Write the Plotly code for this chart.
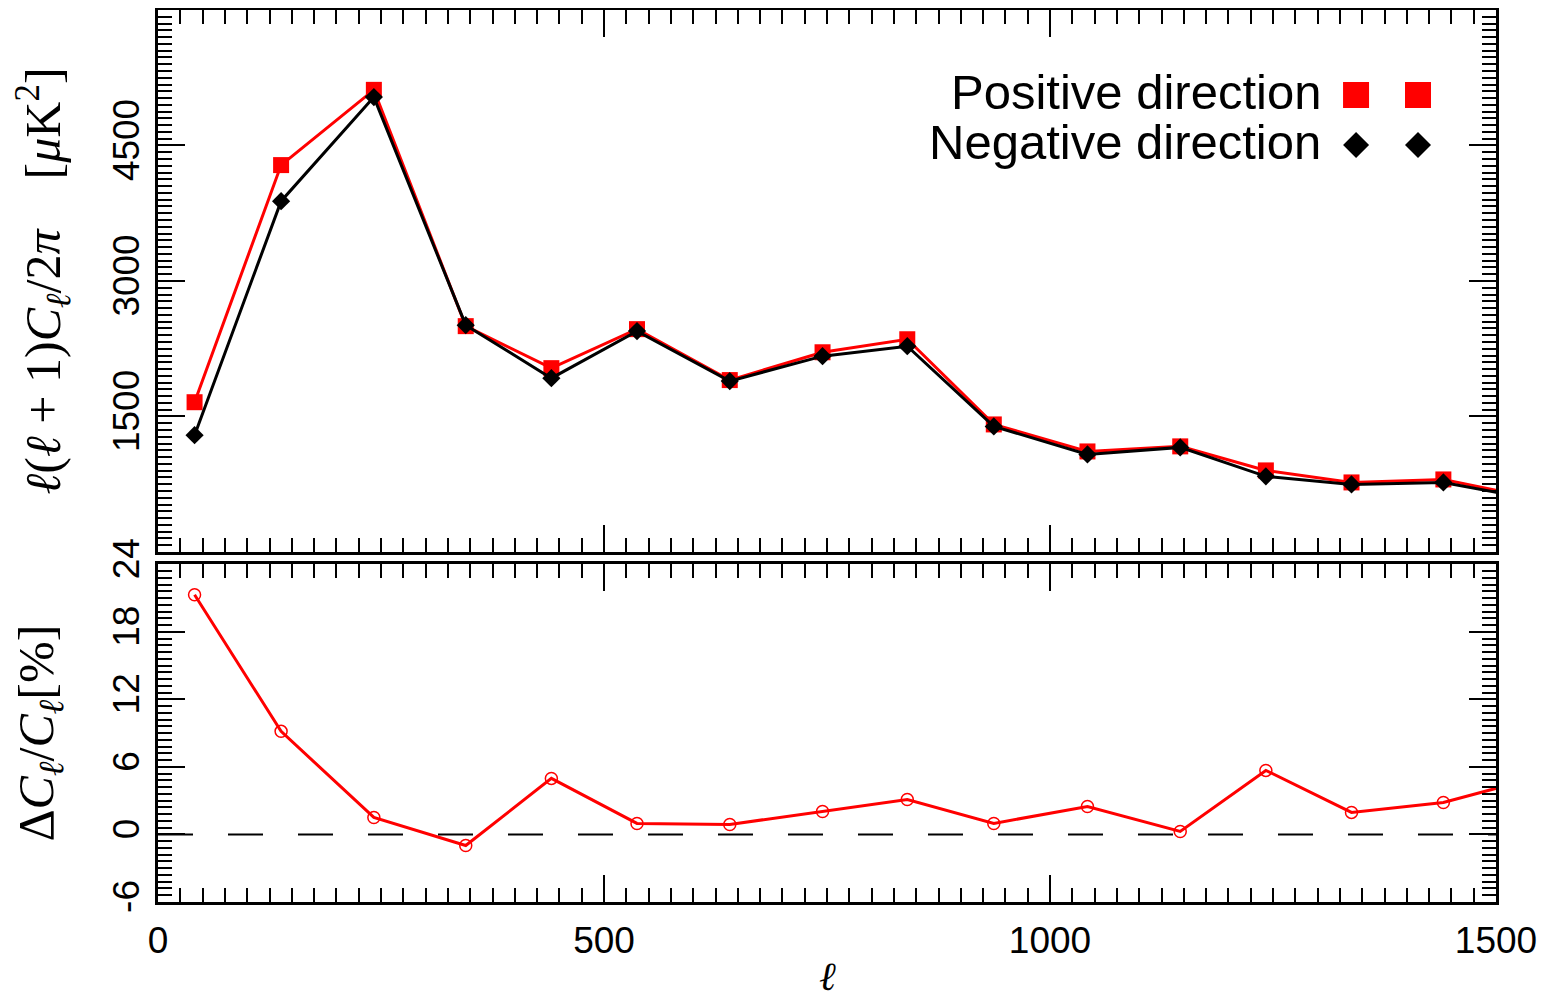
import plotly.graph_objects as go

# ---- data ----
ell = [41, 138, 242, 345, 441, 537, 641, 745, 840, 937, 1042, 1146, 1242, 1338, 1441, 1540]
positive_dl = [1658, 4283, 5116, 2500, 2035, 2467, 1903, 2211, 2355, 1412, 1113, 1169, 903, 770, 803, 603]
negative_dl = [1293, 3884, 5036, 2511, 1924, 2445, 1892, 2168, 2278, 1390, 1080, 1158, 837, 748, 770, 589]
delta_pct = [21.3, 9.16, 1.51, -0.98, 4.98, 0.98, 0.89, 2.04, 3.11, 0.98, 2.49, 0.27, 5.69, 1.96, 2.84, 4.94]

x_ticks = [0, 500, 1000, 1500]
top_y_ticks = [1500, 3000, 4500]
bot_y_ticks = [-6, 0, 6, 12, 18, 24]
bot_y_text = ["-6", "0", "6", "12", "18", "24"]

legend_labels = ["Positive direction", "Negative direction"]

RED = "#ff0000"
BLACK = "#000000"
TICKFONT = dict(family="Liberation Sans, Arial, sans-serif", size=37, color=BLACK)
TITLEFONT = dict(family="Liberation Serif, DejaVu Serif, serif", size=50, color=BLACK)
XTITLEFONT = dict(family="Liberation Serif, DejaVu Serif, serif", size=40, color=BLACK)
LEGFONT = dict(family="Liberation Sans, Arial, sans-serif", size=49, color=BLACK)

fig = go.Figure()

fig.add_trace(go.Scatter(x=ell, y=positive_dl, mode="lines+markers", xaxis="x2", yaxis="y2",
                         line=dict(color=RED, width=3),
                         marker=dict(symbol="square", size=16, color=RED), showlegend=False))
fig.add_trace(go.Scatter(x=ell, y=negative_dl, mode="lines+markers", xaxis="x2", yaxis="y2",
                         line=dict(color=BLACK, width=3),
                         marker=dict(symbol="diamond", size=14, color=BLACK), showlegend=False))
fig.add_trace(go.Scatter(x=ell, y=delta_pct, mode="lines+markers", xaxis="x", yaxis="y",
                         line=dict(color=RED, width=3),
                         marker=dict(symbol="circle-open", size=12, color=RED, line=dict(width=1.5)),
                         showlegend=False))

common = dict(showline=True, linewidth=3, linecolor=BLACK, mirror="allticks",
              ticks="inside", ticklen=27, tickwidth=2, tickcolor=BLACK,
              showgrid=False, zeroline=False, tickfont=TICKFONT, automargin=False)

# legend symbols: pixel-sized shapes anchored in paper coordinates
legend_shapes = []
for xa in (0.8954, 0.9417):
    legend_shapes.append(dict(type="rect", xref="paper", yref="paper", xsizemode="pixel", ysizemode="pixel",
                              xanchor=xa, yanchor=0.9047, x0=-13, x1=13, y0=-13, y1=13,
                              fillcolor=RED, line=dict(width=0)))
    legend_shapes.append(dict(type="path", xref="paper", yref="paper", xsizemode="pixel", ysizemode="pixel",
                              xanchor=xa, yanchor=0.8487, path="M -13 0 L 0 13 L 13 0 L 0 -13 Z",
                              fillcolor=BLACK, line=dict(width=0)))

fig.update_layout(
    width=1540, height=987, autosize=False,
    margin=dict(l=150, r=52, t=2, b=93, autoexpand=False),
    plot_bgcolor="white", paper_bgcolor="white",
    xaxis=dict(domain=[0, 1], anchor="y", range=[0, 1500], tickvals=x_ticks,
               minor=dict(ticks="inside", ticklen=14, tickwidth=2, tickcolor=BLACK, dtick=25, tick0=0),
               ticklabelstandoff=4, **common),
    yaxis=dict(domain=[0, 0.3786], anchor="x", range=[-6, 24], tickvals=bot_y_ticks, ticktext=bot_y_text,
               tickangle=-90, ticklabelstandoff=1,
               minor=dict(ticks="inside", ticklen=14, tickwidth=2, tickcolor=BLACK, dtick=0.6, tick0=0),
               title=dict(text="Δ<i>C</i><sub><i>ℓ</i></sub>/<i>C</i><sub><i>ℓ</i></sub>[%]",
                          font=TITLEFONT, standoff=38), **common),
    xaxis2=dict(domain=[0, 1], anchor="y2", range=[0, 1500], tickvals=x_ticks, showticklabels=False,
                matches="x",
                minor=dict(ticks="inside", ticklen=14, tickwidth=2, tickcolor=BLACK, dtick=25, tick0=0),
                **common),
    yaxis2=dict(domain=[0.3924, 1], anchor="x2", range=[0, 6000], tickvals=top_y_ticks,
                tickangle=-90, ticklabelstandoff=1,
                minor=dict(ticks="inside", ticklen=14, tickwidth=2, tickcolor=BLACK, dtick=75, tick0=0),
                title=dict(text="<i>ℓ</i>(<i>ℓ</i> + 1)<i>C</i><sub><i>ℓ</i></sub>/2<i>π</i>"
                                "\u00a0\u00a0\u00a0\u00a0[<i>μ</i>K<sup>2</sup>]",
                           font=TITLEFONT, standoff=38), **common),
    shapes=[dict(type="line", xref="x domain", x0=0, x1=1, yref="y", y0=0, y1=0,
                 line=dict(color=BLACK, width=2, dash="35px,35px"))] + legend_shapes,
    annotations=[
        dict(text=legend_labels[0], xref="paper", yref="paper", x=0.8707, y=0.908,
             xanchor="right", yanchor="middle", showarrow=False, font=LEGFONT),
        dict(text=legend_labels[1], xref="paper", yref="paper", x=0.8707, y=0.852,
             xanchor="right", yanchor="middle", showarrow=False, font=LEGFONT),
        dict(text="<i>ℓ</i>", xref="paper", yref="paper", x=0.5, y=-0.083,
             xanchor="center", yanchor="middle", showarrow=False, font=XTITLEFONT),
    ],
)

fig.write_html("out.html")
